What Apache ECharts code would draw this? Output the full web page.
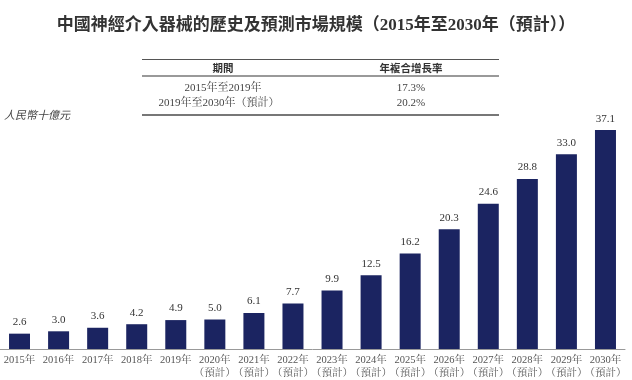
<!DOCTYPE html>
<html><head><meta charset="utf-8">
<script src="https://cdn.jsdelivr.net/npm/echarts@6/dist/echarts.min.js"></script>
<style>html,body{margin:0;padding:0;background:#fff}#c{width:632px;height:380px}</style>
</head><body><div id="c"></div>
<script>
var categories = ['2015年','2016年','2017年','2018年','2019年','2020年\n（預計）','2021年\n（預計）','2022年\n（預計）','2023年\n（預計）','2024年\n（預計）','2025年\n（預計）','2026年\n（預計）','2027年\n（預計）','2028年\n（預計）','2029年\n（預計）','2030年\n（預計）'];
var values = [2.6,3.0,3.6,4.2,4.9,5.0,6.1,7.7,9.9,12.5,16.2,20.3,24.6,28.8,33.0,37.1];
var tableHeader = ['期間','年複合增長率'];
var tablePeriods = ['2015年至2019年','2019年至2030年（預計）'];
var tableRates = ['17.3%','20.2%'];
var title = '中國神經介入器械的歷史及預測市場規模（2015年至2030年（預計））';
var unit = '人民幣十億元';

var serif = '"Liberation Serif","Noto Serif CJK TC","Noto Sans CJK TC",serif';
var chart = echarts.init(document.getElementById('c'));
chart.setOption({
  animation:false,
  title:{text:title,left:'center',top:12,textStyle:{fontSize:17,fontWeight:'bold',color:'#333',fontFamily:'"Liberation Serif","Noto Sans CJK TC",sans-serif'}},
  grid:{left:-3,right:7,top:113,bottom:31},
  xAxis:{type:'category',data:categories,axisTick:{show:false},
    axisLine:{lineStyle:{color:'#999',width:1}},
    axisLabel:{color:'#555',fontSize:10.5,fontFamily:serif,lineHeight:13,margin:5,interval:0}},
  yAxis:{type:'value',min:0,max:40,show:false,splitLine:{show:false}},
  series:[{type:'bar',data:values,barWidth:21,itemStyle:{color:'#1b2461'},
    label:{show:true,position:'top',distance:6,color:'#333',fontSize:11,fontFamily:serif,formatter:function(p){return p.value.toFixed(1);}}}],
  graphic:[
    {type:'line',shape:{x1:142,y1:59.5,x2:499,y2:59.5},style:{stroke:'#555',lineWidth:1}},
    {type:'line',shape:{x1:142,y1:76,x2:499,y2:76},style:{stroke:'#777',lineWidth:1.5}},
    {type:'line',shape:{x1:142,y1:115,x2:499,y2:115},style:{stroke:'#777',lineWidth:2}},
    {type:'text',x:223,y:68,style:{text:tableHeader[0],fill:'#333',font:'bold 10.5px "Noto Sans CJK TC"',textAlign:'center',textVerticalAlign:'middle'}},
    {type:'text',x:411,y:68,style:{text:tableHeader[1],fill:'#333',font:'bold 10.5px "Noto Sans CJK TC"',textAlign:'center',textVerticalAlign:'middle'}},
    {type:'text',x:223,y:88,style:{text:tablePeriods[0],fill:'#444',font:'11px '+serif,textAlign:'center',textVerticalAlign:'middle'}},
    {type:'text',x:411,y:88,style:{text:tableRates[0],fill:'#444',font:'11px '+serif,textAlign:'center',textVerticalAlign:'middle'}},
    {type:'text',x:219,y:103,style:{text:tablePeriods[1],fill:'#444',font:'11px '+serif,textAlign:'center',textVerticalAlign:'middle'}},
    {type:'text',x:411,y:103,style:{text:tableRates[1],fill:'#444',font:'11px '+serif,textAlign:'center',textVerticalAlign:'middle'}},
    {type:'text',x:4,y:115,style:{text:unit,fill:'#444',font:'italic 11px "Noto Sans CJK TC"',textAlign:'left',textVerticalAlign:'middle'}}
  ]
});
</script></body></html>
